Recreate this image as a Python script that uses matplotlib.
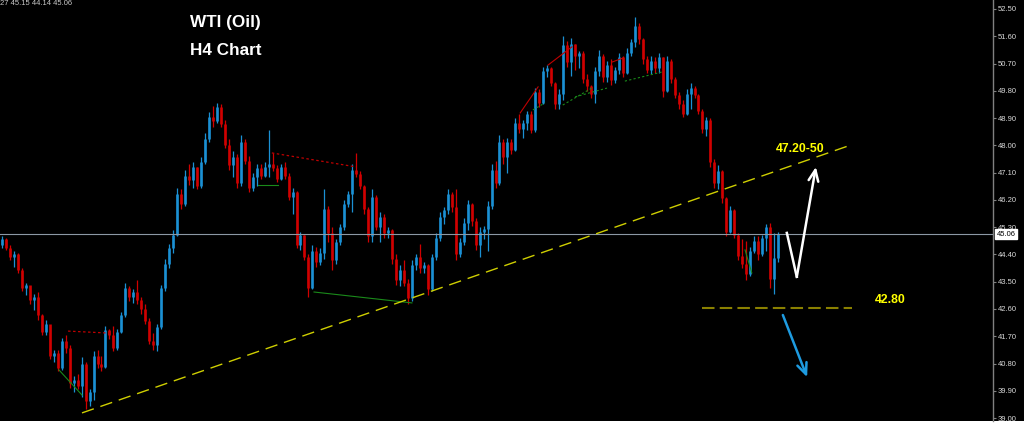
import numpy as np
import matplotlib.pyplot as plt
from matplotlib.patches import Rectangle
from matplotlib.transforms import blended_transform_factory

plt.rcParams['font.family'] = ['Liberation Sans', 'DejaVu Sans']

# H4 bars, oldest first (open of each bar = close of the bar before)
first_open = 44.70
highs = [45.00, 44.95, 44.70, 44.50, 44.45, 43.95, 43.45, 43.30, 43.10, 43.15,
         42.45, 42.25, 42.00, 41.25, 41.25, 41.65, 41.75, 41.40, 40.40, 40.45,
         41.00, 40.85, 39.95, 41.20, 41.25, 41.05, 42.05, 41.95, 42.05, 41.95,
         42.50, 43.45, 43.35, 43.25, 43.55, 43.00, 42.75, 42.30, 41.80, 42.10,
         43.40, 44.25, 44.75, 45.20, 46.60, 46.55, 47.20, 47.40, 47.45, 47.30,
         47.60, 48.40, 49.10, 49.30, 49.40, 49.35, 48.85, 48.20, 47.80, 47.70,
         48.35, 48.20, 47.65, 47.10, 47.40, 47.40, 47.45, 48.50, 47.75, 47.35,
         47.40, 47.45, 47.10, 46.60, 46.50, 45.15, 45.05, 44.40, 44.70, 44.65,
         44.60, 46.55, 46.00, 45.30, 44.90, 45.40, 46.20, 46.50, 47.40, 47.75,
         47.15, 46.70, 45.95, 46.55, 46.35, 45.80, 45.75, 45.30, 45.25, 44.40,
         44.05, 44.20, 43.60, 44.20, 44.40, 44.75, 44.15, 44.10, 44.40, 45.10,
         45.80, 45.95, 46.55, 46.45, 46.55, 44.95, 45.60, 46.20, 46.10, 45.60,
         45.30, 45.35, 46.15, 47.40, 47.50, 48.35, 48.20, 48.25, 48.20, 48.90,
         49.05, 48.85, 49.15, 49.15, 49.90, 49.85, 50.60, 50.65, 50.60, 50.10,
         49.85, 51.60, 51.45, 51.55, 51.35, 51.10, 51.10, 50.35, 50.00, 50.60,
         51.15, 51.00, 50.80, 50.85, 50.60, 51.05, 50.95, 51.20, 51.50, 52.25,
         52.05, 51.55, 50.95, 50.95, 50.90, 51.05, 50.90, 50.95, 50.85, 50.25,
         49.75, 49.50, 49.85, 50.05, 49.95, 49.70, 49.20, 48.95, 48.90, 47.55,
         47.35, 47.20, 46.30, 46.00, 45.90, 45.10, 44.90, 44.85, 44.65, 45.00,
         45.00, 45.05, 45.40, 45.45, 45.10, 45.15]
lows = [44.60, 44.55, 44.20, 44.00, 43.80, 43.20, 43.05, 42.75, 42.55, 42.25,
        41.75, 41.75, 40.95, 40.85, 40.55, 40.60, 41.15, 40.00, 39.85, 39.95,
        39.70, 39.30, 39.40, 39.60, 40.65, 40.55, 40.65, 41.60, 41.20, 41.25,
        41.80, 42.35, 42.85, 42.80, 42.75, 42.45, 42.10, 41.45, 41.25, 41.20,
        41.95, 43.20, 43.95, 44.45, 45.00, 45.90, 46.00, 46.70, 46.60, 46.55,
        46.60, 47.40, 48.10, 48.60, 48.75, 48.60, 47.90, 47.20, 46.95, 46.60,
        46.65, 47.40, 46.45, 46.50, 46.65, 46.90, 46.95, 46.95, 47.15, 46.80,
        46.85, 46.90, 46.20, 45.75, 44.60, 44.55, 44.20, 43.00, 43.25, 44.00,
        44.05, 44.25, 44.80, 43.90, 44.10, 44.70, 45.20, 45.95, 45.80, 46.95,
        46.55, 45.75, 44.80, 44.80, 45.20, 44.80, 44.95, 44.95, 44.10, 43.40,
        43.35, 43.35, 42.75, 42.85, 43.90, 43.80, 43.80, 43.05, 43.20, 44.20,
        44.85, 45.40, 45.75, 45.80, 44.20, 44.30, 44.70, 45.20, 45.35, 44.55,
        44.30, 44.90, 44.50, 45.90, 46.60, 46.70, 47.40, 47.10, 47.70, 47.80,
        48.40, 48.25, 48.50, 48.40, 48.45, 49.25, 49.35, 50.25, 49.95, 49.20,
        49.20, 49.50, 50.60, 50.30, 50.50, 50.55, 50.05, 49.80, 49.55, 49.40,
        50.30, 50.10, 50.10, 50.00, 50.05, 50.35, 50.25, 50.35, 50.95, 51.25,
        51.35, 50.70, 50.40, 50.35, 50.40, 50.40, 49.60, 49.75, 50.05, 49.55,
        49.20, 48.95, 49.00, 49.20, 49.55, 49.05, 48.40, 48.30, 47.30, 46.60,
        46.55, 46.10, 45.00, 45.10, 44.95, 44.20, 43.95, 43.55, 43.70, 44.45,
        44.20, 44.35, 44.50, 43.30, 43.10, 44.14]
closes = [44.90, 44.62, 44.30, 44.40, 43.90, 43.30, 43.40, 42.90, 43.00, 42.40,
          41.85, 42.10, 41.05, 41.15, 40.65, 41.55, 41.30, 40.15, 40.25, 40.05,
          40.80, 39.55, 39.85, 41.05, 40.80, 40.70, 41.90, 41.75, 41.30, 41.85,
          42.40, 43.30, 43.00, 43.15, 42.90, 42.60, 42.20, 41.55, 41.40, 42.00,
          43.30, 44.10, 44.60, 45.05, 46.40, 46.05, 47.00, 46.85, 47.30, 46.65,
          47.45, 48.20, 48.95, 48.80, 49.25, 48.70, 48.00, 47.35, 47.60, 46.75,
          48.10, 47.50, 46.60, 46.95, 47.25, 47.00, 47.30, 47.40, 47.25, 46.90,
          47.30, 47.00, 46.30, 46.45, 44.70, 45.05, 44.30, 43.30, 44.50, 44.15,
          44.45, 45.90, 45.10, 44.20, 44.80, 45.30, 46.05, 46.40, 47.20, 47.05,
          46.65, 45.90, 45.00, 46.30, 45.30, 45.65, 45.10, 45.20, 44.25, 43.55,
          43.90, 43.45, 42.95, 44.05, 44.30, 43.95, 44.05, 43.25, 44.30, 44.95,
          45.65, 45.85, 46.40, 45.95, 44.40, 44.80, 45.45, 46.05, 45.50, 44.70,
          45.15, 45.25, 46.00, 47.20, 46.75, 48.10, 47.60, 48.10, 47.85, 48.75,
          48.55, 48.75, 49.05, 48.50, 49.75, 49.40, 50.45, 50.55, 50.05, 49.35,
          49.70, 51.30, 50.75, 51.35, 50.95, 51.05, 50.20, 49.95, 49.70, 50.45,
          50.95, 50.25, 50.65, 50.15, 50.50, 50.90, 50.40, 51.05, 51.40, 51.95,
          51.50, 50.85, 50.50, 50.80, 50.55, 50.90, 49.80, 50.80, 50.20, 49.65,
          49.35, 49.05, 49.70, 49.90, 49.65, 49.15, 48.55, 48.85, 47.45, 46.75,
          47.15, 46.25, 45.15, 45.85, 45.05, 44.35, 44.10, 43.75, 44.50, 44.85,
          44.40, 44.95, 45.30, 43.60, 44.27, 45.06]
opens = [first_open] + closes[:-1]

price_ticks = [52.50, 51.60, 50.70, 49.80, 48.90, 48.00, 47.10, 46.20,
               45.30, 44.40, 43.50, 42.60, 41.70, 40.80, 39.90, 39.00]
last_price = 45.06
header = '27 45.15 44.14 45.06'

# drawn objects, in (bar index, price)
trend_line = ([20.1, 212.6], [39.17, 47.98])
support_line = ([175.9, 213.6], [42.64, 42.64])
up_path = ([197.2, 199.7, 204.5], [45.11, 43.66, 47.29])
down_path = ([196.2, 202.3], [42.40, 40.35])
up_label = (200.5, 47.88, '47.20-50')
down_label = (223.1, 42.90, '42.80')
red_dotted = [([16.6, 27.6], [41.87, 41.80]), ([67.8, 88.9], [47.75, 47.29])]
red_solid = [([130.2, 134.7], [49.07, 49.93]), ([137.2, 143.2], [50.65, 51.25]),
             ([153.3, 156.0], [50.75, 50.88])]
green_solid = [([14.3, 20.1], [40.59, 39.76]), ([64.3, 69.3], [46.69, 46.69]),
               ([78.4, 103.0], [43.16, 42.80]), ([186.7, 188.4], [44.55, 43.79])]
green_dotted = [([133.4, 136.4], [49.17, 49.40]), ([140.9, 148.2], [49.33, 49.89]),
                ([144.0, 152.0], [49.60, 49.89]), ([156.5, 165.8], [50.12, 50.42])]

BLUE = '#1B90D4'
RED = '#D00000'

fig = plt.figure(figsize=(10.24, 4.38), dpi=100, facecolor='black')
fig.add_artist(Rectangle((0, 0), 1, 17/438, transform=fig.transFigure,
                         facecolor='white', edgecolor='none', zorder=-1))
ax = fig.add_axes([0, 17/438, 993/1024, 421/438])
ax.set_facecolor('black')

o = np.array(opens)
c = np.array(closes)
x = np.arange(len(c))
cols = np.where(c >= o, BLUE, RED)
ax.vlines(x, lows, highs, colors=cols, lw=0.9)
ax.vlines(x, np.minimum(o, c), np.maximum(o, c), colors=cols, lw=1.9)

for xs, ys in red_dotted:
    ax.plot(xs, ys, color='#C00000', lw=0.9, ls=(0, (2, 2)))
for xs, ys in red_solid:
    ax.plot(xs, ys, color='#C00000', lw=0.8)
for xs, ys in green_solid:
    ax.plot(xs, ys, color='#1A8A1A', lw=0.8)
for xs, ys in green_dotted:
    ax.plot(xs, ys, color='#1A8A1A', lw=0.8, ls=(0, (2, 2)))

ax.axhline(last_price, color='#8C98A4', lw=0.8)
ax.plot(*trend_line, color='#CFCF00', lw=1.0, dashes=(9, 5))
ax.plot(*support_line, color='#8A8000', lw=1.5, dashes=(6, 2.5))

ax.plot(up_path[0][:2], up_path[1][:2], color='white', lw=1.8)
ax.annotate('', xy=(up_path[0][2], up_path[1][2]), xytext=(up_path[0][1], up_path[1][1]),
            arrowprops=dict(arrowstyle='->,head_length=0.8,head_width=0.35',
                            color='white', lw=1.8, shrinkA=0, shrinkB=0))
ax.annotate('', xy=(down_path[0][1], down_path[1][1]), xytext=(down_path[0][0], down_path[1][0]),
            arrowprops=dict(arrowstyle='->,head_length=0.8,head_width=0.35',
                            color='#1E9BE0', lw=1.8, shrinkA=0, shrinkB=0))

ax.text(up_label[0], up_label[1], up_label[2], color='#FFFF00', fontsize=8.8,
        fontweight='bold', ha='center', va='center')
ax.text(down_label[0], down_label[1], down_label[2], color='#FFFF00', fontsize=8.8,
        fontweight='bold', ha='center', va='center')

ax.text(0.1913, 0.9477, 'WTI (Oil)', transform=ax.transAxes, color='white',
        fontsize=12.3, fontweight='bold', ha='left', va='center')
ax.text(0.1913, 0.8789, 'H4 Chart', transform=ax.transAxes, color='white',
        fontsize=12.3, fontweight='bold', ha='left', va='center')
fig.text(0.0, 1.0, header, color='#C8C8C8', fontsize=5.5, ha='left', va='top')

ax.set_xlim(-0.5, 249.0)
ax.set_ylim(38.903, 52.797)
for side in ['top', 'left', 'bottom']:
    ax.spines[side].set_visible(False)
ax.spines['right'].set_color('#808080')
ax.spines['right'].set_linewidth(1.0)
ax.set_xticks([])
ax.yaxis.tick_right()
ax.set_yticks(price_ticks)
ax.set_yticklabels([f'{v:.2f}' for v in price_ticks])
ax.tick_params(axis='y', colors='#808080', labelcolor='#D8D8D8', labelsize=5.5,
               length=2, width=0.8, pad=1.5)

tr = blended_transform_factory(ax.transAxes, ax.transData)
ax.text(1.004, last_price, f'{last_price:.2f}', transform=tr, color='black',
        fontsize=5.5, ha='left', va='center', clip_on=False,
        bbox=dict(boxstyle='square,pad=0.2', fc='white', ec='white'))

fig.savefig('out.png', dpi=100, facecolor='black')
